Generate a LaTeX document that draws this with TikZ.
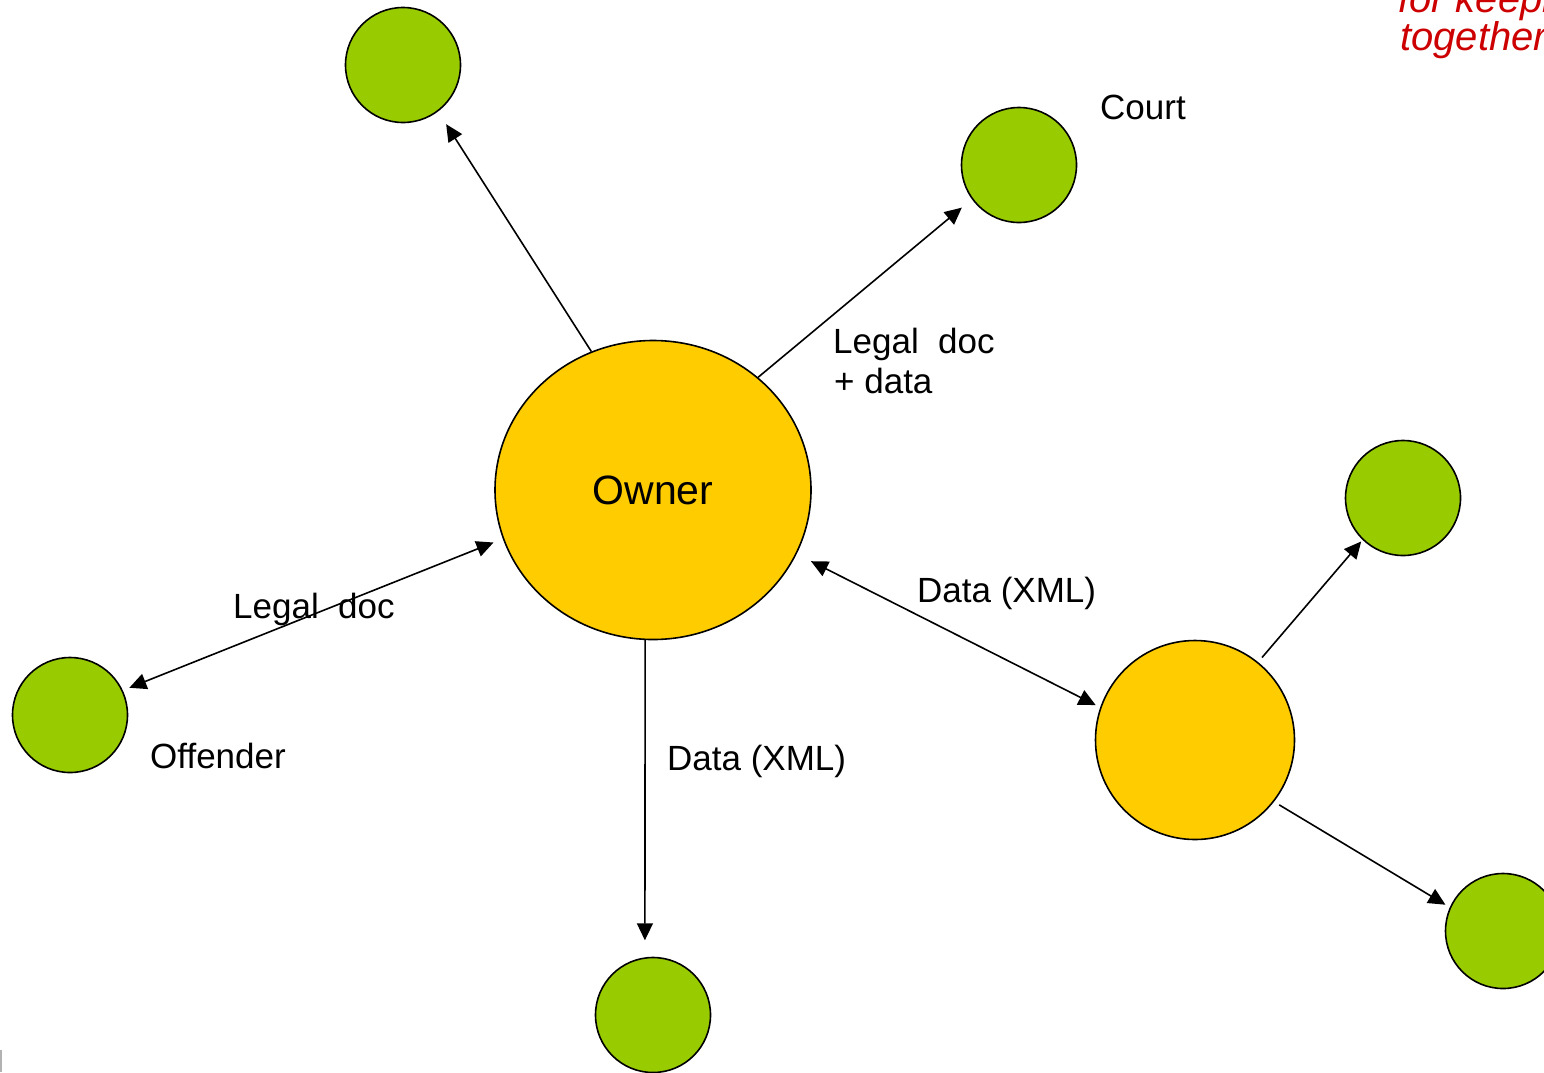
\documentclass[tikz,border=0pt]{standalone}
\usepackage{fontspec}
\setmainfont{Liberation Sans}
\usetikzlibrary{arrows.meta,shapes.geometric,positioning}
\definecolor{leaf}{RGB}{153,204,0}
\definecolor{amber}{RGB}{255,204,0}
\definecolor{note}{RGB}{204,0,0}

\begin{document}
\begin{tikzpicture}[x=1pt,y=-1pt,
    party/.style={circle, draw, line width=1.6pt, fill=leaf, minimum size=115pt, inner sep=0pt},
    hub/.style={circle, draw, line width=1.6pt, fill=amber, minimum size=199pt, inner sep=0pt},
    lbl/.style={font=\fontsize{35}{42}\selectfont, inner sep=0pt, anchor=base west},
    link/.style={line width=1.6pt, -{Triangle[length=17pt,width=16pt]}},
    both/.style={line width=1.6pt, {Triangle[length=17pt,width=16pt]}-{Triangle[length=17pt,width=16pt]}}]
        \useasboundingbox (0,0) rectangle (1544,1072);
        \clip (0,0) rectangle (1544,1072);
        % the owner and the parties round it
        \node[ellipse, draw, fill=amber, line width=1.6pt, minimum width=316pt, minimum height=299pt,
              inner sep=0pt, font=\fontsize{41}{48}\selectfont] at (653,490) (owner) {Owner};
        \node[party] at (403,65) (upper) {};
        \node[party] at (1019,165) (court) {};
        \node[party] at (70,715) (offender) {};
        \node[party] at (653,1015) (lower) {};
        \node[hub] at (1195,740) (relay) {};
        \node[party] at (1403,498) (relayup) {};
        \node[party] at (1503,931) (relaydown) {};
        % connectors
        \draw[link, shorten >=15pt] (owner.114) -- (upper.-53);
        \draw[link, shorten >=13pt] (owner.47) -- (court.216);
        \draw[both, shorten <=7pt, shorten >=10pt] (offender.25) -- (owner.198);
        \draw[both, shorten <=16pt, shorten >=5pt] (owner.-24) -- (relay.161);
        \draw[link, shorten >=17pt] (owner.-93) -- (lower.98);
        \draw[link, shorten <=6pt, shorten >=2pt] (relay.51) -- (relayup.226);
        \draw[link, shorten <=6pt, shorten >=5pt] (relay.-38) -- (relaydown.156);
        % labels
        \node[lbl] at (1100,119) (courtlbl) {Court};
        \node[lbl] at (833,353) (legal1) {Legal\ \ doc};
        \node[lbl] at (834,393) (legal2) {+ data};
        \node[lbl] at (233,618) (legal3) {Legal\ \ doc};
        \node[lbl] at (150,768) (offlbl) {Offender};
        \node[lbl] at (917,602) (xml1) {Data (XML)};
        \node[lbl] at (667,770) (xml2) {Data (XML)};
        \node[lbl, font=\fontsize{40}{42}\selectfont\itshape, text=note] at (1398,12) (note1) {for keeping};
        \node[lbl, font=\fontsize{40}{42}\selectfont\itshape, text=note] at (1400,50) (note2) {together};
        \draw[gray!60, line width=1.5pt] (1,1050) -- (1,1072);
      \end{tikzpicture}
\end{document}
